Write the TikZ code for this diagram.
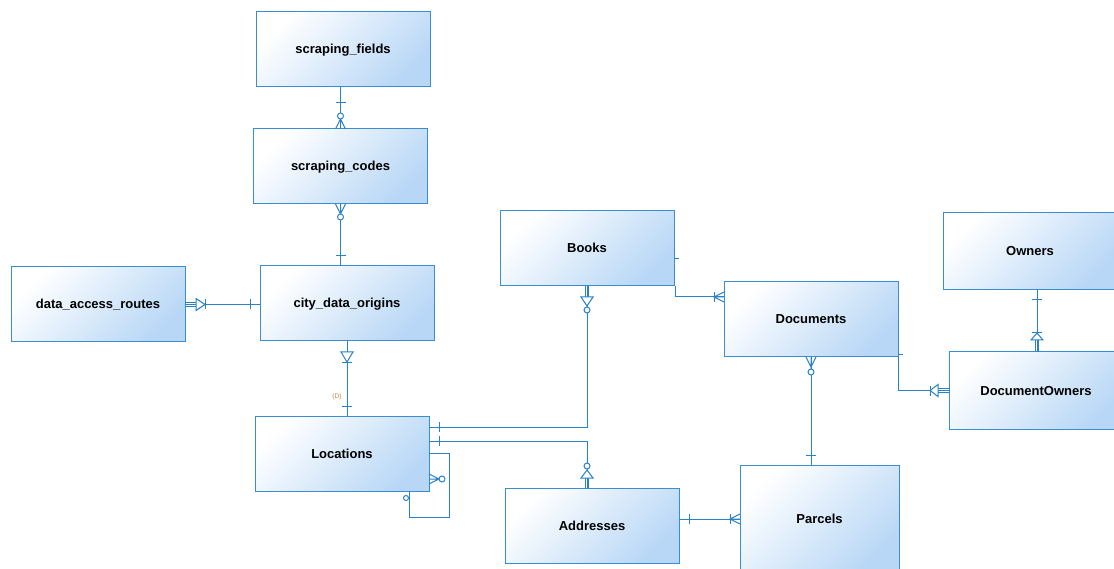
\documentclass[tikz,border=0pt]{standalone}
\usepackage{fontspec}
\setmainfont{Liberation Sans}
\usetikzlibrary{calc}
\definecolor{edge}{HTML}{2A82C6}
\definecolor{boxline}{HTML}{3A8DD2}
\definecolor{boxfill}{HTML}{B8D7F6}
\definecolor{tagc}{HTML}{C8803A}

\begin{document}
\begin{tikzpicture}[x=1pt,y=-1pt,
  entity/.style={draw=boxline, line width=1pt, top color=white, bottom color=boxfill,
    shading angle=45, minimum width=174pt, minimum height=75pt, inner sep=0pt,
    outer sep=0pt, font=\fontsize{13}{15}\selectfont\bfseries, text=black,
    text height=10pt, text depth=1pt},
  rel/.style={draw=edge, line width=1pt},
  pics/mbar/.style={code={\draw[rel] (#1,-5) -- (#1,5);}},
  pics/crow/.style={code={\draw[rel] (0,-5) -- (10,0) -- (0,5) (0,0) -- (10,0);}},
  pics/crowcirc/.style={code={
    \draw[rel] (0,-5) -- (10,0) -- (0,5) (0,0) -- (#1,0);
    \draw[rel, fill=white] (#1,0) circle[radius=3];}},
  pics/trilines/.style={code={
    \draw[rel, line width=0.8pt] (0,-1.8) -- (#1,-1.8) (0,0) -- (#1,0) (0,1.8) -- (#1,1.8);}},
  pics/tri/.style args={#1/#2}{code={
    \draw[rel, fill=white] (#1,-6) -- (#2,0) -- (#1,6) -- cycle;}},
  pics/circ/.style={code={\draw[rel, fill=white] (#1,0) circle[radius=3];}}
]
\useasboundingbox[fill=white] (0,0) rectangle (1114,569);

% entities
\node[entity] (sf)  at (343,49.5)   {scraping\_fields};
\node[entity] (sc)  at (340.5,166.5) {scraping\_codes};
\node[entity] (cdo) at (347,303.5)  {city\_data\_origins};
\node[entity] (dar) at (98,304.5)   {data\_access\_routes};
\node[entity] (loc) at (342,453.5)  {Locations};
\node[entity] (bk)  at (587,248.5)  {Books};
\node[entity] (doc) at (811,319.5)  {Documents};
\node[entity, minimum height=77pt] (own) at (1030,251.5) {Owners};
\node[entity, minimum height=77pt] (dow) at (1036,390.5) {DocumentOwners};
\node[entity] (adr) at (592,525.5)  {Addresses};
\node[entity, minimum width=159pt, minimum height=108pt] (par) at (819.5,519) {Parcels};

% scraping_fields -- scraping_codes
\draw[rel] (sf.south -| sc.north) -- (sc.north);
\pic[rotate=-90] at (sf.south -| sc.north) {mbar=16};
\pic[rotate=90] at (sc.north) {crowcirc=13};

% scraping_codes -- city_data_origins
\draw[rel] (sc.south) -- (sc.south |- cdo.north);
\pic[rotate=-90] at (sc.south) {crowcirc=13};
\pic[rotate=90] at (sc.south |- cdo.north) {mbar=10};

% data_access_routes -- city_data_origins
\draw[rel] (dar.east) -- (dar.east -| cdo.west);
\pic at (dar.east) {trilines=11};
\pic at (dar.east) {tri=11/20};
\pic at (dar.east) {mbar=20};
\pic[rotate=180] at (dar.east -| cdo.west) {mbar=10};

% city_data_origins -- Locations
\draw[rel] (cdo.south) -- (cdo.south |- loc.north);
\pic[rotate=-90] at (cdo.south) {tri=11/21};
\pic[rotate=-90] at (cdo.south) {mbar=21};
\pic[rotate=90] at (cdo.south |- loc.north) {mbar=10};
\node[text=tagc, font=\fontsize{6.5}{7}\selectfont, inner sep=0pt] (dtag) at (337,396.5) {(D)};

% Locations -- Books
\coordinate (lb) at ([yshift=-11pt]loc.north east);
\draw[rel] (lb) -| (bk.south);
\pic at (lb) {mbar=10};
\pic[rotate=-90] at (bk.south) {trilines=11};
\pic[rotate=-90] at (bk.south) {tri=11/20};
\pic[rotate=-90] at (bk.south) {circ=24};

% Locations -- Addresses
\coordinate (la) at ([yshift=-25pt]loc.north east);
\coordinate (at) at ([xshift=-5pt]adr.north);
\draw[rel] (la) -| (at);
\pic at (la) {mbar=10};
\pic[rotate=90] at (at) {trilines=10};
\pic[rotate=90] at (at) {tri=10/18};
\pic[rotate=90] at (at) {circ=22};

% Locations -- Locations (self reference)
\coordinate (ls) at ([yshift=-37pt]loc.north east);
\coordinate (le) at ([xshift=67pt]loc.south);
\draw[rel] (ls) -- ++(20,0) -- ++(0,64) -| (le);
\pic at ([yshift=-63pt]loc.north east) {crowcirc=13};
\draw[rel, fill=white] ([xshift=64pt,yshift=-7pt]loc.south) circle[radius=2.5];

% Books -- Documents
\coordinate (dw) at ([yshift=22.5pt]doc.west);
\draw[rel] ([xshift=1pt]bk.south east) |- (dw);
\draw[rel] ([yshift=-10pt]bk.east) -- ++(5,0);
\pic[rotate=180] at (dw) {crow};
\pic[rotate=180] at (dw) {mbar=10};

% Documents -- Parcels
\draw[rel] (doc.south) -- (doc.south |- par.north);
\pic[rotate=-90] at (doc.south) {crowcirc=15};
\pic[rotate=90] at (doc.south |- par.north) {mbar=10};

% Documents -- DocumentOwners
\draw[rel] ([xshift=0.5pt]doc.south east) |- (dow.west);
\draw[rel] ([yshift=2pt]doc.south east) -- ++(5,0);
\pic[rotate=180] at (dow.west) {trilines=11};
\pic[rotate=180] at (dow.west) {tri=11/19};
\pic[rotate=180] at (dow.west) {mbar=19};

% Owners -- DocumentOwners
\coordinate (dn) at ([xshift=1pt]dow.north);
\draw[rel] (dn |- own.south) -- (dn);
\pic[rotate=-90] at (dn |- own.south) {mbar=10};
\pic[rotate=90] at (dn) {trilines=12};
\pic[rotate=90] at (dn) {tri=12/19};
\pic[rotate=90] at (dn) {mbar=19};

% Addresses -- Parcels
\draw[rel] (par.west -| adr.east) -- (par.west);
\pic at (par.west -| adr.east) {mbar=10};
\pic[rotate=180] at (par.west) {crow};
\pic[rotate=180] at (par.west) {mbar=10};
\end{tikzpicture}
\end{document}
